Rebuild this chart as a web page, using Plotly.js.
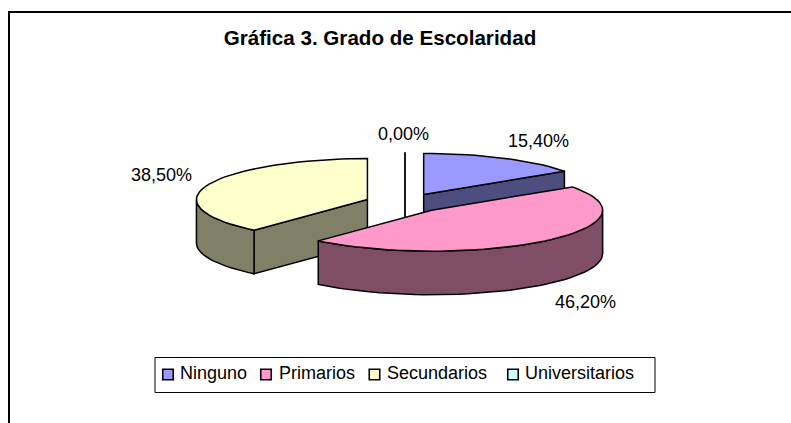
<!DOCTYPE html>
<html><head><meta charset="utf-8">
<script src="https://cdn.plot.ly/plotly-3.0.1.min.js"></script>
<style>html,body{margin:0;padding:0;background:#fff}#c{width:791px;height:423px}</style>
</head><body><div id="c"></div>
<script>
var categories = ["Ninguno","Primarios","Secundarios","Universitarios"];
var values = [15.4,46.2,38.5,0];
var labels = ["15,40%","46,20%","38,50%","0,00%"];
var topColors = ["#9999FF","#FF99CC","#FFFFCC","#CCFFFF"];
var sideColors = ["#4D4D80","#804D66","#808066","#668080"];
var labelPos = [[538,140.5],[585,301.5],[161.5,175],[403,134]];
var legendSwatchX = [168,266,374.5,513];
var legendTextX = [180.5,279,387,525.5];

var W=791,H=423, Cx=405, Cy=203, RX=171, RY=41, DEPTH=43.5, EXPL=0.235;
var total = values.reduce(function(a,b){return a+b},0);
var rad=function(d){return d*Math.PI/180};
var slices=[], acc=0;
values.forEach(function(v,i){
  var a0=acc/total*360, a1=(acc+v)/total*360; acc+=v;
  var m=(a0+a1)/2;
  slices.push({i:i,a0:a0,a1:a1,cx:Cx+EXPL*RX*Math.sin(rad(m)),cy:Cy-EXPL*RY*Math.cos(rad(m))});
});
function pt(s,a,dz){return [s.cx+RX*Math.sin(rad(a)), s.cy-RY*Math.cos(rad(a))+(dz||0)];}
function arc(s,a0,a1,dz){var n=Math.max(2,Math.ceil((a1-a0)/3)),o=[];for(var k=0;k<=n;k++)o.push(pt(s,a0+(a1-a0)*k/n,dz));return o;}
function poly(points,fill){
  var x=points.map(function(p){return p[0]}),y=points.map(function(p){return p[1]});
  x.push(x[0]);y.push(y[0]);
  return {type:'scatter',mode:'lines',x:x,y:y,fill:'toself',fillcolor:fill,line:{color:'#000',width:1.5},hoverinfo:'skip',showlegend:false};
}
function sliceTraces(s){
  var t=[],c=[s.cx,s.cy],i=s.i;
  if(s.a1-s.a0<=0){
    var p=pt(s,s.a0);
    t.push({type:'scatter',mode:'lines',x:[p[0],p[0]],y:[p[1],s.cy+DEPTH],line:{color:'#000',width:1.8},hoverinfo:'skip',showlegend:false});
    return t;
  }
  [s.a0,s.a1].forEach(function(a,j){
    var sa=Math.sin(rad(a));
    if((j===0&&sa<0)||(j===1&&sa>0)){
      var e=pt(s,a);
      t.push(poly([c,e,[e[0],e[1]+DEPTH],[c[0],c[1]+DEPTH]],sideColors[i]));
    }
  });
  var f0=Math.max(s.a0,90),f1=Math.min(s.a1,270);
  if(f1>f0) t.push(poly(arc(s,f0,f1,0).concat(arc(s,f0,f1,DEPTH).reverse()),sideColors[i]));
  t.push(poly([c].concat(arc(s,s.a0,s.a1,0)),topColors[i]));
  return t;
}
var data=[];
[3,0,2,1].forEach(function(i){data=data.concat(sliceTraces(slices[i]));});
categories.forEach(function(n,i){
  data.push({type:'scatter',mode:'markers',x:[legendSwatchX[i]],y:[374.5],name:n,showlegend:false,hoverinfo:'skip',
    marker:{symbol:'square',size:10.5,color:topColors[i],line:{color:'#000',width:1.6}}});
});
var annotations=labels.map(function(l,i){return {x:labelPos[i][0],y:labelPos[i][1],xref:'x',yref:'y',text:l,showarrow:false,xanchor:'center',yanchor:'middle',font:{size:18,color:'#000'}};});
categories.forEach(function(n,i){
  annotations.push({x:legendTextX[i],y:373,xref:'x',yref:'y',text:n,showarrow:false,xanchor:'left',xshift:-2.5,yanchor:'middle',font:{size:18,color:'#000'}});
});
var layout={
  width:W,height:H,margin:{l:0,r:0,t:0,b:0},paper_bgcolor:'#fff',plot_bgcolor:'#fff',
  font:{family:'Liberation Sans, Arial, sans-serif',color:'#000'},
  title:{text:'<b>Gráfica 3. Grado de Escolaridad</b>',font:{size:20.6,color:'#000'},x:380/W,xanchor:'center',y:1-38/H,yanchor:'middle'},
  xaxis:{range:[0,W],visible:false,fixedrange:true},
  yaxis:{range:[H,0],visible:false,fixedrange:true},
  showlegend:false,
  annotations:annotations,
  shapes:[
    {type:'rect',xref:'x',yref:'y',x0:9,x1:W+10,y0:12,y1:H+10,line:{color:'#000',width:2},layer:'below'},
    {type:'rect',xref:'x',yref:'y',x0:155,x1:655,y0:357.5,y1:392.5,line:{color:'#000',width:1},layer:'below'}
  ]
};
Plotly.newPlot('c',data,layout,{staticPlot:true,displayModeBar:false});
</script></body></html>
